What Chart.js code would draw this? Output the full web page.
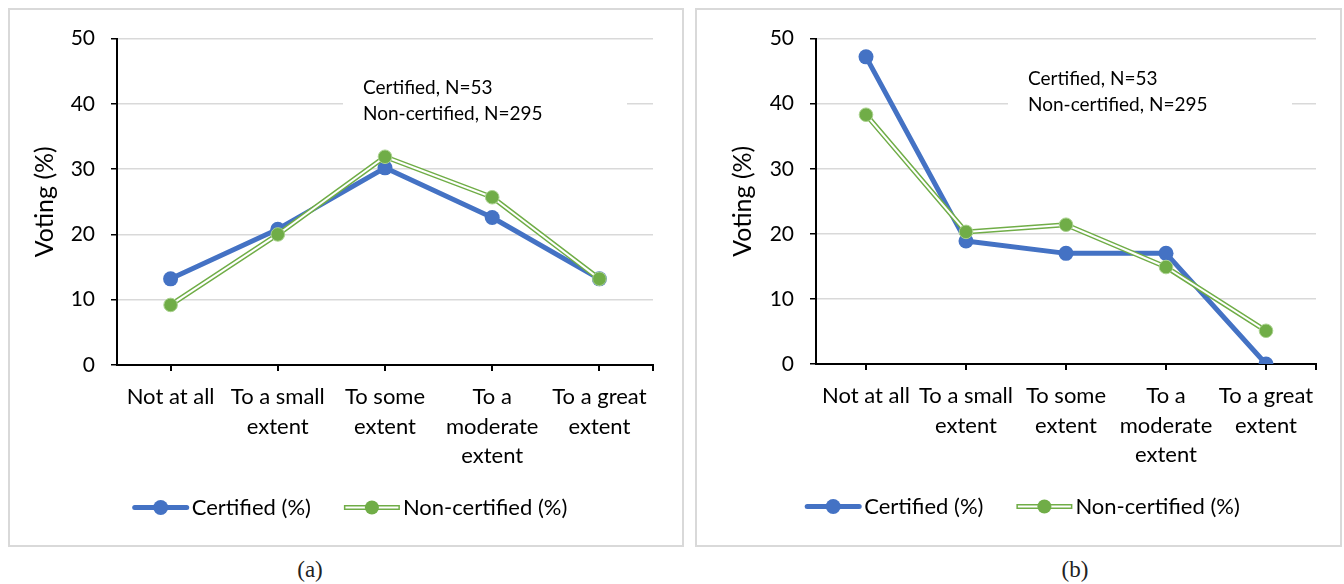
<!DOCTYPE html>
<html lang="en">

<head>
    <meta charset="UTF-8">
    <title>Voting by certification</title>
    <script src="https://cdn.jsdelivr.net/npm/chart.js"></script>
    <style>
        body { margin: 0; background: #fff; width: 1344px; height: 584px; position: relative; overflow: hidden; }
        .panel { position: absolute; top: 8px; height: 539px; border: 2px solid #d9d9d9; box-sizing: border-box; }
        .panel canvas { display: block; }
        .caption { position: absolute; top: 557px; font-family: "Liberation Serif", serif; font-size: 23px; color: #222; transform: translateX(-50%); }
    </style>
</head>

<body>
    <div class="panel" style="left: 8px; width: 676px;">
        <canvas id="chartA" width="672" height="535"></canvas>
    </div>
    <div class="panel" style="left: 695px; width: 647px;">
        <canvas id="chartB" width="643" height="535"></canvas>
    </div>
    <div class="caption" style="left: 310px;">(a)</div>
    <div class="caption" style="left: 1075px;">(b)</div>

    <script>
        // categorias del eje x
        const categories = [["Not at all"], ["To a small", "extent"], ["To some", "extent"], ["To a", "moderate", "extent"], ["To a great", "extent"]];
        const seriesNames = ["Certified (%)", "Non-certified (%)"];
        const noteLines = ["Certified, N=53", "Non-certified, N=295"];

        // (a)
        const certifiedA = [13.2, 20.8, 30.2, 22.6, 13.2];
        const nonCertifiedA = [9.2, 20.0, 31.9, 25.7, 13.2];
        // (b)
        const certifiedB = [47.2, 18.9, 17.0, 17.0, 0];
        const nonCertifiedB = [38.3, 20.3, 21.4, 14.9, 5.1];

        const BLUE = "#4472c4";
        const GREEN = "#70ad47";
        const FONT = "Lato, 'Open Sans', sans-serif";
        const INK = "#000";

        // texto anotado + leyenda dibujada a mano (linea doble del verde)
        const extras = {
            id: "extras",
            beforeDatasetsDraw(chart, args, opts) {
                const ctx = chart.ctx;
                ctx.save();
                ctx.fillStyle = "#fff";
                ctx.fillRect(opts.boxX1, opts.noteY - 17, opts.boxX2 - opts.boxX1, 26 + 34);
                ctx.fillStyle = INK;
                ctx.font = "19px " + FONT;
                ctx.textBaseline = "middle";
                noteLines.forEach((t, i) => ctx.fillText(t, opts.noteX, opts.noteY + i * 26));
                ctx.restore();
            },
            afterDraw(chart) {
                const ctx = chart.ctx;
                const area = chart.chartArea;
                ctx.save();
                // marca final del eje x
                ctx.strokeStyle = "#000";
                ctx.lineWidth = 2;
                ctx.beginPath();
                ctx.moveTo(area.right, area.bottom);
                ctx.lineTo(area.right, area.bottom + 6);
                ctx.stroke();

                ctx.font = "22px " + FONT;
                ctx.textBaseline = "middle";
                const w1 = ctx.measureText(seriesNames[0]).width;
                const w2 = ctx.measureText(seriesNames[1]).width;
                const total = 56 + 3 + w1 + 33 + 56 + 3 + w2;
                let x = chart.width / 2 + 4 - total / 2;
                const y = area.bottom + 142.5;

                ctx.lineCap = "round";
                ctx.strokeStyle = BLUE;
                ctx.lineWidth = 5;
                ctx.beginPath(); ctx.moveTo(x + 2, y); ctx.lineTo(x + 54, y); ctx.stroke();
                ctx.fillStyle = BLUE;
                ctx.beginPath(); ctx.arc(x + 28, y, 7.5, 0, Math.PI * 2); ctx.fill();
                ctx.fillStyle = INK;
                ctx.fillText(seriesNames[0], x + 59, y);
                x += 56 + 3 + w1 + 33;

                ctx.lineCap = "butt";
                ctx.strokeStyle = GREEN;
                ctx.lineWidth = 5;
                ctx.beginPath(); ctx.moveTo(x, y); ctx.lineTo(x + 56, y); ctx.stroke();
                ctx.strokeStyle = "#fff";
                ctx.lineWidth = 2;
                ctx.beginPath(); ctx.moveTo(x + 1.5, y); ctx.lineTo(x + 54.5, y); ctx.stroke();
                ctx.fillStyle = GREEN;
                ctx.beginPath(); ctx.arc(x + 28, y, 7, 0, Math.PI * 2); ctx.fill();
                ctx.fillStyle = INK;
                ctx.fillText(seriesNames[1], x + 59, y);
                ctx.restore();
            }
        };

        function makeChart(id, certified, nonCertified, cfg) {
            return new Chart(document.getElementById(id), {
                type: "line",
                data: {
                    labels: categories,
                    datasets: [
                        {
                            label: seriesNames[0],
                            data: certified,
                            borderColor: BLUE,
                            borderWidth: 5,
                            pointRadius: 7.5,
                            pointBackgroundColor: BLUE,
                            pointBorderWidth: 0,
                            borderJoinStyle: "round",
                            order: 3,
                        },
                        {
                            label: seriesNames[1],
                            data: nonCertified,
                            borderColor: GREEN,
                            borderWidth: 5,
                            pointRadius: 0,
                            borderJoinStyle: "round",
                            order: 2,
                        },
                        {
                            label: seriesNames[1] + " inner",
                            data: nonCertified,
                            borderColor: "#fff",
                            borderWidth: 2,
                            pointRadius: 6.8,
                            pointBackgroundColor: GREEN,
                            pointBorderColor: "#a9d18e",
                            pointBorderWidth: 1,
                            borderJoinStyle: "round",
                            order: 1,
                        },
                    ],
                },
                options: {
                    responsive: false,
                    animation: false,
                    layout: { padding: { top: 27, right: cfg.rightPad, bottom: cfg.bottomPad, left: 0 } },
                    plugins: {
                        legend: { display: false },
                        tooltip: { enabled: false },
                        extras: cfg.note,
                    },
                    scales: {
                        x: {
                            offset: true,
                            afterFit: (s) => { s.height = 110; },
                            grid: { offset: false, drawOnChartArea: false, tickLength: 6, tickColor: "#000", lineWidth: 2 },
                            border: { color: "#000", width: 2 },
                            ticks: { color: INK, font: { family: FONT, size: 22, lineHeight: 1.35 }, padding: 11, maxRotation: 0, autoSkip: false },
                        },
                        y: {
                            min: 0,
                            max: 50,
                            afterFit: (s) => { s.width = cfg.axisWidth; },
                            grid: { color: "#d9d9d9", lineWidth: 1.5, tickLength: 6, tickColor: "#000" },
                            border: { color: "#000", width: 2 },
                            ticks: { stepSize: 10, color: INK, font: { family: FONT, size: 21 }, padding: 16 },
                            title: {
                                display: true,
                                text: "Voting (%)",
                                color: INK,
                                font: { family: FONT, size: 25, lineHeight: 1.2 },
                                padding: { top: cfg.titlePad, bottom: 0 },
                            },
                        },
                    },
                },
                plugins: [extras],
            });
        }

        makeChart("chartA", certifiedA, nonCertifiedA, {
            axisWidth: 107, rightPad: 29, bottomPad: 70, titlePad: 20,
            note: { noteX: 353, noteY: 77.5, boxX1: 333, boxX2: 617 },
        });
        makeChart("chartB", certifiedB, nonCertifiedB, {
            axisWidth: 119, rightPad: 24, bottomPad: 71, titlePad: 31,
            note: { noteX: 331, noteY: 68.5, boxX1: 311, boxX2: 595 },
        });
    </script>
</body>

</html>
